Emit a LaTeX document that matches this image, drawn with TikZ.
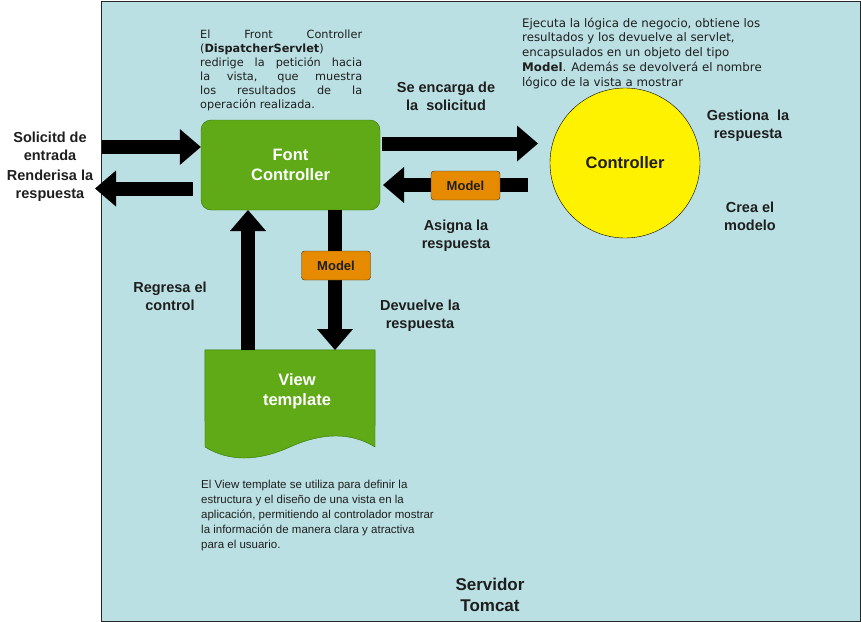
\documentclass[tikz,border=0pt]{standalone}
\usepackage{fontspec}
\setmainfont{Liberation Sans}
\newfontfamily\verd{DejaVu Sans}
\usetikzlibrary{arrows.meta}
\definecolor{bgblue}{HTML}{BBE0E3}
\definecolor{fcgreen}{HTML}{60A917}
\definecolor{fcborder}{HTML}{2D7600}
\definecolor{modelorange}{HTML}{E68A00}
\definecolor{txtdark}{HTML}{1E1E1E}
\begin{document}
\begin{tikzpicture}[x=1pt,y=-1pt,
  lbl/.style={font=\fontsize{14.5}{18}\selectfont\bfseries, align=center, text=txtdark, inner sep=0},
  bigarrow/.style={line width=14pt, -{Triangle[width=36pt,length=21pt,line width=0pt]}},
  modelbox/.style={draw=black!80, fill=modelorange, rounded corners=3pt, minimum width=69pt, minimum height=29pt, font=\fontsize{13}{15}\selectfont\bfseries, inner sep=0, text=txtdark},
  greenbox/.style={draw=fcborder, fill=fcgreen, text=white, font=\fontsize{16.5}{20}\selectfont\bfseries, align=center, inner sep=0},
]
\useasboundingbox (0,0) rectangle (861,621);
% container
\node[draw=black!85, fill=bgblue, minimum width=759pt, minimum height=620pt, inner sep=0, anchor=north west] (srv) at (101,0.5) {};
\node[lbl, font=\fontsize{17}{21}\selectfont\bfseries] (srvlbl) at (490,594.5) {Servidor\\Tomcat};

% main nodes
\node[greenbox, rounded corners=10pt, minimum width=179pt, minimum height=90pt] (fc) at (290.5,165) {Font\\Controller};
\node[circle, draw=black, fill=yellow, minimum size=150pt, inner sep=0, font=\fontsize{16.5}{20}\selectfont\bfseries, text=txtdark] (ctrl) at (625,163) {Controller};

% view template (document shape)
\node[minimum width=170pt, minimum height=97pt, inner sep=0] (vt) at (290,398.5) {};
\draw[fill=fcgreen, draw=fcborder] (vt.north west) -- (vt.north east) -- (375,447)
  .. controls (351,432.3) and (322.7,432.3) .. (290,447)
  .. controls (257.3,461.7) and (229,461.7) .. (205,447) -- cycle;
\node[greenbox, draw=none, fill=none] (vtl) at (297,391.5) {View\\template};

% coordinates for arrow ends
\coordinate (in1) at (102,147);
\coordinate (r1) at (193,188.5);
\coordinate (r2) at (95,188.5);
\coordinate (s1) at (382,143.5);
\coordinate (s2) at (538,143.5);
\coordinate (b1) at (528,185);
\coordinate (b2) at (383,185);
\coordinate (u1) at (248,350);
\coordinate (u2) at (248,210);
\coordinate (d1) at (335,210);
\coordinate (d2) at (335,350);

% arrows
\draw[bigarrow] (in1) -- (in1 -| fc.west);
\draw[bigarrow] (r1) -- (r2);
\draw[bigarrow] (s1) -- (s2);
\draw[bigarrow] (b1) -- (b2);
\draw[bigarrow] (u1) -- (u2);
\draw[bigarrow] (d1) -- (d2);

% model boxes
\node[modelbox] (m1) at (465.5,185.5) {Model};
\node[modelbox] (m2) at (336,265.5) {Model};

% labels
\node[lbl] (l1) at (50,146) {Solicitd de\\entrada};
\node[lbl] (l2) at (50,186) {Renderisa la\\respuesta};
\node[lbl] (l3) at (446,96) {Se encarga de\\la\ \ solicitud};
\node[lbl] (l4) at (748,126) {Gestiona\ \ la\\respuesta};
\node[lbl] (l5) at (750,216) {Crea el\\modelo};
\node[lbl] (l6) at (456,236) {Asigna la\\respuesta};
\node[lbl] (l7) at (170,296) {Regresa el\\control};
\node[lbl] (l8) at (420,316) {Devuelve la\\respuesta};

% notes
\node[anchor=north west, text width=162pt, align=justify, inner sep=0, text=txtdark,
  font=\verd\fontsize{11.3}{14}\selectfont] (n1) at (200,30)
  {El Front Controller\linebreak (\textbf{DispatcherServlet})\linebreak redirige la petición hacia\linebreak la vista, que muestra\linebreak los resultados de la\linebreak operación realizada.};
\node[anchor=north west, align=left, inner sep=0, text=txtdark,
  font=\verd\fontsize{11.8}{14.8}\selectfont] (n2) at (522,17.5)
  {Ejecuta la lógica de negocio, obtiene los\\resultados y los devuelve al servlet,\\encapsulados en un objeto del tipo\\\textbf{Model}. Además se devolverá el nombre\\lógico de la vista a mostrar};
\node[anchor=north west, align=left, inner sep=0, text=txtdark,
  font=\fontsize{11.5}{15}\selectfont] (n3) at (201,479.5)
  {El View template se utiliza para definir la\\estructura y el diseño de una vista en la\\aplicación, permitiendo al controlador mostrar\\la información de manera clara y atractiva\\para el usuario.};
\end{tikzpicture}
\end{document}
